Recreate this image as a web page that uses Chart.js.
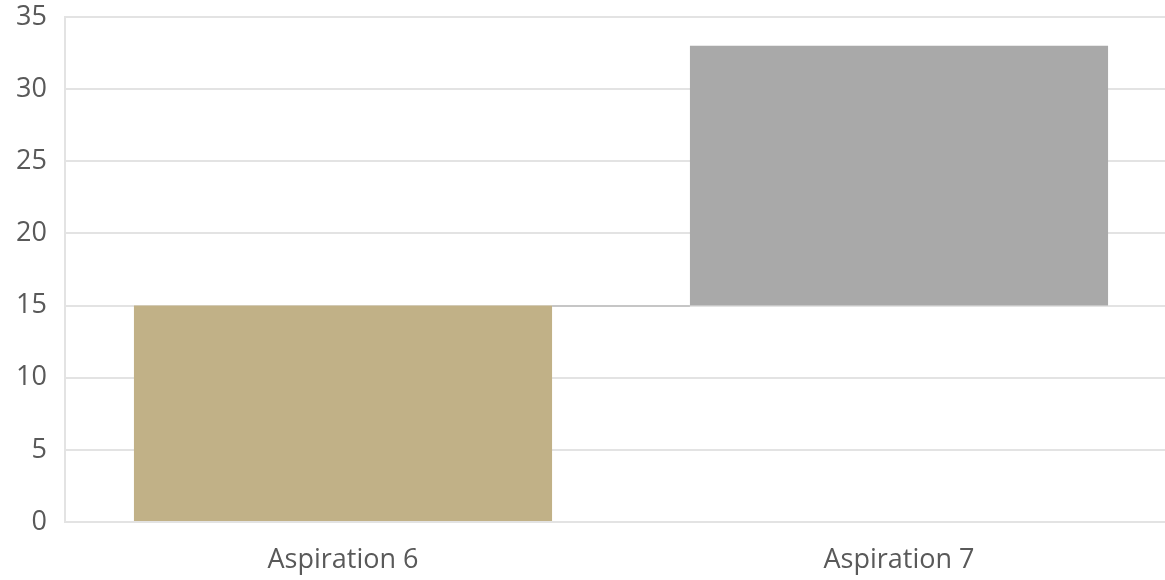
<!DOCTYPE html>
<html>
<head>
<meta charset="utf-8">
<script src="https://cdn.jsdelivr.net/npm/chart.js@4/dist/chart.umd.min.js"></script>
<style>
  html, body { margin: 0; padding: 0; background: #fff; overflow: hidden; }
  #wrap { width: 1165px; height: 580px; overflow: hidden; }
</style>
</head>
<body>
<div id="wrap"><canvas id="grafico" width="1177" height="580"></canvas></div>
<script>
// datos del grafico (cascada)
const categorias = ["Aspiration 6", "Aspiration 7"];
const inicios = [0, 15];
const finales = [15, 33];
const colores = ["#c1b187", "#a9a9a9"];
const yMax = 35;
const yPaso = 5;

const barras = categorias.map((c, i) => [inicios[i], finales[i]]);

// linea que une las barras
const conector = {
    id: "conector",
    afterDatasetsDraw(chart) {
        const meta = chart.getDatasetMeta(0);
        const y = chart.scales.y;
        const ctx = chart.ctx;
        ctx.save();
        ctx.strokeStyle = "#c6c6c6";
        ctx.lineWidth = 2;
        for (let i = 0; i < meta.data.length - 1; i++) {
            const a = meta.data[i], b = meta.data[i + 1];
            const py = Math.round(y.getPixelForValue(finales[i]));
            ctx.beginPath();
            ctx.moveTo(a.x + a.width / 2, py);
            ctx.lineTo(b.x - b.width / 2, py);
            ctx.stroke();
        }
        ctx.restore();
    }
};

new Chart(document.getElementById("grafico"), {
    type: "bar",
    data: {
        labels: categorias,
        datasets: [{
            data: barras,
            backgroundColor: colores,
            borderWidth: 0,
            barPercentage: 0.752,
            categoryPercentage: 1
        }]
    },
    options: {
        responsive: false,
        animation: false,
        layout: { padding: { top: 17, right: 0, left: 0, bottom: 0 } },
        plugins: { legend: { display: false }, tooltip: { enabled: false } },
        scales: {
            x: {
                grid: { display: false, drawTicks: false },
                border: { display: true, color: "#e3e3e3", width: 2 },
                ticks: { color: "#595959", font: { family: "Open Sans", size: 27 }, padding: 22 },
                afterFit: (s) => { s.height = 58; s.paddingLeft = 0; s.paddingRight = 0; }
            },
            y: {
                min: 0,
                max: yMax,
                ticks: { stepSize: yPaso, color: "#595959", font: { family: "Open Sans", size: 27 }, padding: 18 },
                grid: { color: "#e3e3e3", lineWidth: 2, drawTicks: false },
                border: { display: true, color: "#e3e3e3", width: 2 },
                afterFit: (s) => { s.width = 65; s.paddingTop = 0; s.paddingBottom = 0; }
            }
        }
    },
    plugins: [conector]
});
</script>
</body>
</html>
